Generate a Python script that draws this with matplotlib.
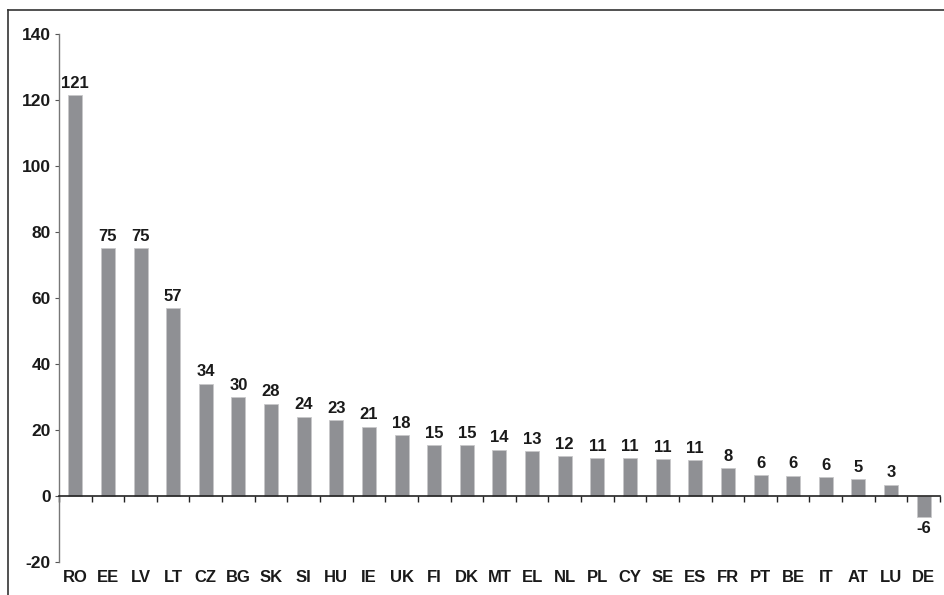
import numpy as np
import matplotlib.pyplot as plt
from matplotlib.lines import Line2D
from matplotlib.transforms import blended_transform_factory

plt.rcParams["font.family"] = ["Liberation Sans", "DejaVu Sans"]
plt.rcParams["font.weight"] = "bold"
plt.rcParams["axes.unicode_minus"] = False

countries = ["RO", "EE", "LV", "LT", "CZ", "BG", "SK", "SI", "HU", "IE", "UK", "FI", "DK", "MT",
             "EL", "NL", "PL", "CY", "SE", "ES", "FR", "PT", "BE", "IT", "AT", "LU", "DE"]
values = [121.5, 75, 75, 57, 34, 30, 28, 24, 23, 21, 18.5, 15.5, 15.3, 14,
          13.5, 12, 11.5, 11.5, 11.2, 10.8, 8.5, 6.4, 6.2, 5.8, 5.2, 3.4, -6.3]
labels = ["121", "75", "75", "57", "34", "30", "28", "24", "23", "21", "18", "15", "15", "14",
          "13", "12", "11", "11", "11", "11", "8", "6", "6", "6", "5", "3", "-6"]

fig = plt.figure(figsize=(9.45, 5.95), dpi=100)
ax = fig.add_axes([0.0624, 0.0555, 0.9323, 0.8875])

x = np.arange(len(countries))
ax.bar(x, values, width=0.43, color="#8f9094", edgecolor="#c8c8ca", linewidth=0.6, zorder=2)

for xi, v, lab in zip(x, values, labels):
    if v >= 0:
        ax.text(xi, v + 1.3, lab, ha="center", va="bottom", fontsize=12, fontweight="bold", color="#1a1a1a")
    else:
        ax.text(xi, v - 1.3, lab, ha="center", va="top", fontsize=12, fontweight="bold", color="#1a1a1a")

ax.set_xlim(-0.5, len(countries) - 0.5)
ax.set_ylim(-20, 140)
ax.set_yticks(np.arange(-20, 141, 20))
ax.tick_params(axis="y", direction="out", length=3, width=0.8, colors="#555555",
               labelsize=12.5, labelcolor="#1a1a1a", pad=3)

for side in ["top", "right"]:
    ax.spines[side].set_visible(False)
ax.spines["left"].set_color("#777777")
ax.spines["left"].set_linewidth(1.0)
ax.spines["bottom"].set_position(("data", 0))
ax.spines["bottom"].set_color("#222222")
ax.spines["bottom"].set_linewidth(1.2)

ax.set_xticks(np.arange(-0.5, len(countries), 1.0))
ax.set_xticklabels([])
ax.tick_params(axis="x", direction="out", length=4, width=1.0, colors="#222222")

trans = blended_transform_factory(ax.transData, ax.transAxes)
for xi, c in zip(x, countries):
    ax.text(xi, -0.015, c, transform=trans, ha="center", va="top",
            fontsize=12, fontweight="bold", color="#1a1a1a")

# figure frame
fig.add_artist(Line2D([8.5 / 945, 8.5 / 945], [0, 1 - 10 / 595], color="#333333", linewidth=1.2))
fig.add_artist(Line2D([8.5 / 945, 1], [1 - 10 / 595, 1 - 10 / 595], color="#333333", linewidth=1.2))

fig.savefig("out.png", dpi=100)
